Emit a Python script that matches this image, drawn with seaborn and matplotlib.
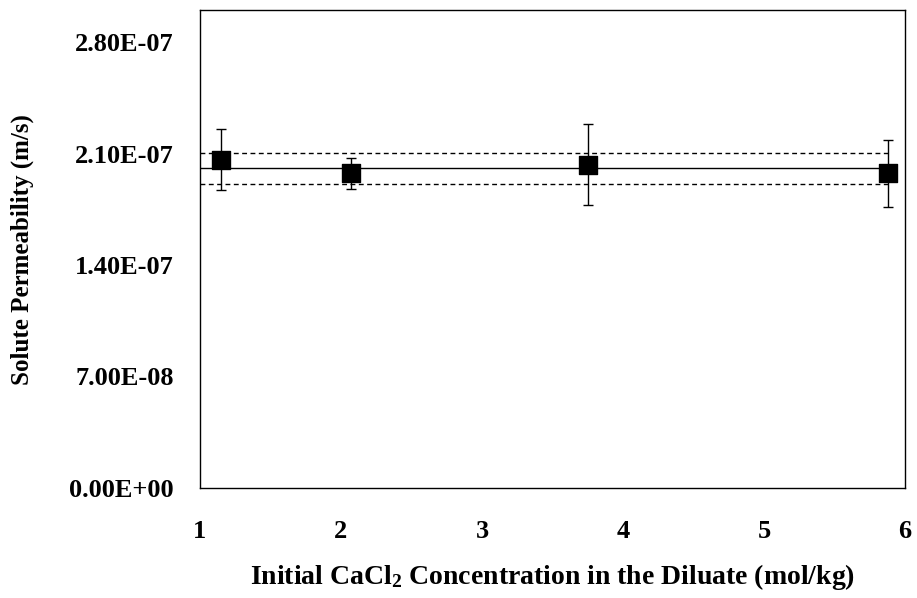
import matplotlib
matplotlib.use("Agg")
import matplotlib.pyplot as plt
import seaborn as sns
import pandas as pd

# Data
conc = [1.15, 2.07, 3.75, 5.88]
perm = [2.06e-7, 1.975e-7, 2.03e-7, 1.975e-7]
perm_err = [1.92e-8, 0.95e-8, 2.55e-8, 2.08e-8]
mean_perm = 2.006e-7
std_perm = 0.098e-7
line_x = [1.0, 5.88]
xticks = [1, 2, 3, 4, 5, 6]
yticks = [0.0, 7.0e-8, 1.4e-7, 2.1e-7, 2.8e-7]
ytick_labels = ["0.00E+00", "7.00E-08", "1.40E-07", "2.10E-07", "2.80E-07"]

sns.set_style("white")
plt.rcParams['font.family'] = ['Liberation Serif', 'DejaVu Serif']
plt.rcParams['font.weight'] = 'bold'
plt.rcParams['text.color'] = 'black'
plt.rcParams['axes.labelcolor'] = 'black'
plt.rcParams['xtick.color'] = 'black'
plt.rcParams['ytick.color'] = 'black'
plt.rcParams['mathtext.fontset'] = 'custom'
plt.rcParams['mathtext.rm'] = 'Liberation Serif:bold'
plt.rcParams['mathtext.bf'] = 'Liberation Serif:bold'
plt.rcParams['mathtext.it'] = 'Liberation Serif:bold'

fig = plt.figure(figsize=(9.17, 5.98), dpi=100)
ax = fig.add_axes([0.218, 0.184, 0.769, 0.799])

df = pd.DataFrame({"x": conc, "y": perm})
lines = pd.DataFrame({"x": line_x * 3,
                      "y": [mean_perm] * 2 + [mean_perm + std_perm] * 2 + [mean_perm - std_perm] * 2,
                      "g": ["m", "m", "u", "u", "l", "l"]})

sns.lineplot(data=lines[lines.g == "m"], x="x", y="y", color="black", lw=1.0, ax=ax, zorder=1)
sns.lineplot(data=lines[lines.g == "u"], x="x", y="y", color="black", lw=1.0, ls=(0, (3.5, 2.5)), ax=ax, zorder=1)
sns.lineplot(data=lines[lines.g == "l"], x="x", y="y", color="black", lw=1.0, ls=(0, (3.5, 2.5)), ax=ax, zorder=1)
ax.errorbar(conc, perm, yerr=perm_err, fmt="none", ecolor="black", elinewidth=1.0, capsize=3.5, capthick=1.0, zorder=2)
sns.scatterplot(data=df, x="x", y="y", marker="s", s=150, color="black", edgecolor="black", ax=ax, zorder=3)

ax.set_xlim(1, 6)
ax.set_ylim(0, 3.0e-7)
ax.set_xticks(xticks)
ax.set_xticklabels([str(t) for t in xticks])
ax.set_yticks(yticks)
ax.set_yticklabels(ytick_labels)
ax.tick_params(axis="x", direction="in", length=7, width=1, pad=23, labelsize=19, colors="black")
ax.tick_params(axis="y", direction="in", length=7, width=1, pad=19, labelsize=19, colors="black")
for lbl in ax.get_xticklabels() + ax.get_yticklabels():
    lbl.set_fontweight("bold")
for s in ax.spines.values():
    s.set_color("black")
    s.set_linewidth(1.0)

ax.set_xlabel("Initial CaCl$_{2}$ Concentration in the Diluate (mol/kg)", fontsize=20, fontweight="bold", color="black")
ax.set_ylabel("Solute Permeability (m/s)", fontsize=18, fontweight="bold", color="black")
ax.xaxis.set_label_coords(0.5, -0.155)
ax.yaxis.set_label_coords(-0.235, 0.5)

fig.savefig("out.png", dpi=100)
